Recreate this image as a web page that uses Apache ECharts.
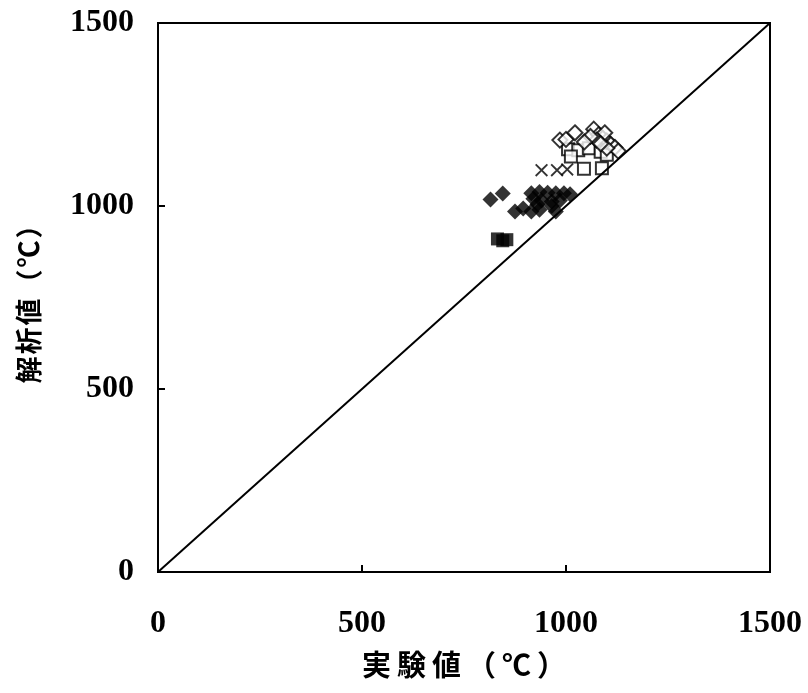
<!DOCTYPE html>
<html><head><meta charset="utf-8">
<script src="https://cdn.jsdelivr.net/npm/echarts@6/dist/echarts.min.js"></script>
<style>html,body{margin:0;padding:0;background:#fff}#c{width:808px;height:693px}</style>
</head><body><div id="c"></div>
<script>
const axisTicks = [0, 500, 1000, 1500];
const xName = ['実', '験', '値', '（', '℃', '）'];
const yName = ['解', '析', '値', '（', '℃', '）'];
const diagonal = [[0, 0], [1500, 1500]];
const filledDiamonds = [[815,1018],[845,1034],[915,1035],[935,1038],[955,1036],[975,1035],[995,1035],[1010,1032],[920,1020],[940,1015],[965,1012],[985,1015],[875,985],[895,993],[915,985],[935,990],[965,1000],[975,985],[930,1005]];
const filledSquares = [[832,910],[845,905],[855,908]];
const crosses = [[940,1098],[978,1098],[1003,1100]];
const openSquares = [[1044,1102],[1088,1103],[1005,1155],[1030,1152],[1056,1158],[1085,1148],[1012,1135],[1100,1140]];
const openDiamonds = [[985,1180],[1000,1182],[1022,1200],[1068,1210],[1080,1195],[1090,1185],[1100,1178],[1110,1168],[1120,1160],[1128,1150],[1095,1200],[1075,1180],[1060,1190],[1100,1158],[1085,1170],[1045,1175]];

const chart = echarts.init(document.getElementById('c'));
const numFont = {fontFamily: 'Liberation Serif', fontWeight: 'bold', fontSize: 32, color: '#000'};
const crossPath = 'path://M0,1L1,0L5,4L9,0L10,1L6,5L10,9L9,10L5,6L1,10L0,9L4,5Z';
const cjk = 'Noto Sans CJK JP';
const spaced = chars => chars.map(c => '{s|' + c + '}').join('');
chart.setOption({
  animation: false,
  grid: {left: 158, right: 38, top: 23, bottom: 121, show: true, borderColor: '#000', borderWidth: 2},
  xAxis: {
    type: 'value', min: axisTicks[0], max: axisTicks[3], interval: 500,
    axisLine: {lineStyle: {color: '#000', width: 2}},
    axisTick: {inside: true, length: 7, lineStyle: {color: '#000', width: 2}},
    splitLine: {show: false},
    axisLabel: Object.assign({margin: 36, formatter: v => String(v)}, numFont),
    name: spaced(xName), nameLocation: 'middle', nameGap: 78,
    nameTextStyle: {fontFamily: cjk, fontWeight: 'bold', fontSize: 29, color: '#000',
      rich: {s: {fontFamily: cjk, fontWeight: 'bold', fontSize: 29, color: '#000', padding: [0, 3]}}}
  },
  yAxis: {
    type: 'value', min: axisTicks[0], max: axisTicks[3], interval: 500,
    axisLine: {lineStyle: {color: '#000', width: 2}},
    axisTick: {inside: true, length: 7, lineStyle: {color: '#000', width: 2}},
    splitLine: {show: false},
    axisLabel: Object.assign({margin: 24, formatter: v => String(v)}, numFont),
    name: spaced(yName), nameLocation: 'middle', nameGap: 116, nameRotate: 90,
    nameTextStyle: {fontFamily: cjk, fontWeight: 'bold', fontSize: 27, color: '#000', padding: [0, 0, 0, 0],
      rich: {s: {fontFamily: cjk, fontWeight: 'bold', fontSize: 27, color: '#000', padding: [0, 1]}}}
  },
  series: [
    {type: 'line', data: diagonal, symbol: 'none', lineStyle: {color: '#000', width: 2}, silent: true},
    {type: 'scatter', data: filledDiamonds, symbol: 'diamond', symbolSize: 16, itemStyle: {color: '#000'}},
    {type: 'scatter', data: filledSquares, symbol: 'rect', symbolSize: 13, itemStyle: {color: '#000'}},
    {type: 'scatter', data: crosses, symbol: crossPath, symbolSize: 13, itemStyle: {color: '#000'}},
    {type: 'scatter', data: openSquares, symbol: 'rect', symbolSize: 12, itemStyle: {color: '#fff', borderColor: '#000', borderWidth: 2}},
    {type: 'scatter', data: openDiamonds, symbol: 'diamond', symbolSize: 15, itemStyle: {color: '#fff', borderColor: '#000', borderWidth: 2}}
  ]
});
</script></body></html>
